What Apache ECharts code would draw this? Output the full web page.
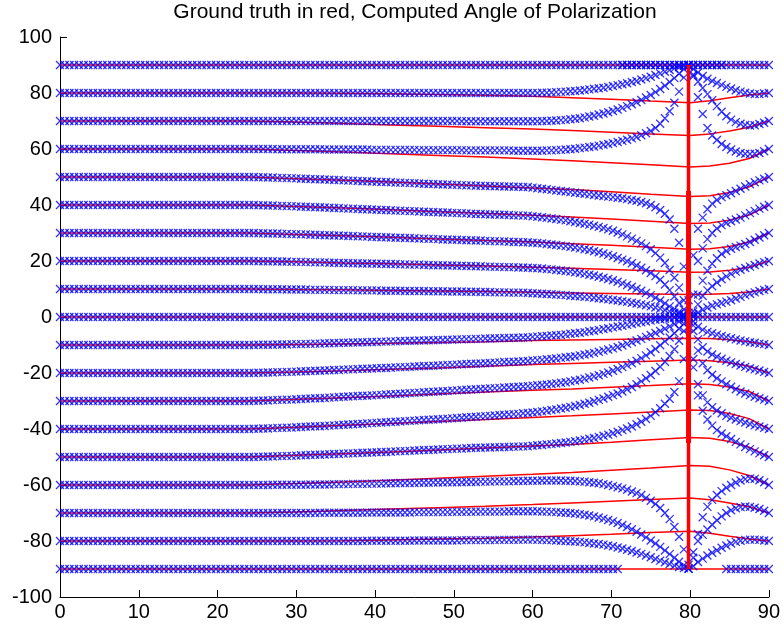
<!DOCTYPE html>
<html><head><meta charset="utf-8">
<script src="https://cdn.jsdelivr.net/npm/echarts@6/dist/echarts.min.js"></script>
<style>html,body{margin:0;padding:0;background:#fff}#c{width:783px;height:630px}</style>
</head><body><div id="c"></div>
<script>
const titleText = 'Ground truth in red, Computed Angle of Polarization';
const xTicks = [0,10,20,30,40,50,60,70,80,90];
const yTicks = [-100,-80,-60,-40,-20,0,20,40,60,80,100];

// x positions of the computed (blue) samples
const xs = [0,0.6,1.2,1.8,2.4,3,3.6,4.2,4.8,5.4,6,6.6,7.2,7.8,8.4,9,9.6,10.2,10.8,11.4,
12,12.6,13.2,13.8,14.4,15,15.6,16.2,16.8,17.4,18,18.6,19.2,19.8,20.4,21,21.6,22.2,22.8,23.4,
24,24.6,25.2,25.8,26.4,27,27.6,28.2,28.8,29.4,30,30.6,31.2,31.8,32.4,33,33.6,34.2,34.8,35.4,
36,36.6,37.2,37.8,38.4,39,39.6,40.2,40.8,41.4,42,42.6,43.2,43.8,44.4,45,45.6,46.2,46.8,47.4,
48,48.6,49.2,49.8,50.4,51,51.6,52.2,52.8,53.4,54,54.6,55.2,55.8,56.4,57,57.6,58.2,58.8,59.4,
60,60.6,61.2,61.8,62.4,63,63.6,64.2,64.8,65.4,66,66.6,67.2,67.8,68.4,69,69.6,70.2,70.8,71.4,
72,72.6,73.2,73.8,74.4,75,75.6,76.2,76.8,77.4,78,78.6,79.2,79.8,80.4,81,81.6,82.2,82.8,83.4,
84,84.6,85.2,85.8,86.4,87,87.6,88.2,88.8,89.4,90];

const blueP90 = [90,90,90,90,90,90,90,90,90,90,90,90,90,90,90,90,90,90,90,90,90,90,90,90,90,90,90,90,90,90,
90,90,90,90,90,90,90,90,90,90,90,90,90,90,90,90,90,90,90,90,90,90,90,90,90,90,90,90,90,90,
90,90,90,90,90,90,90,90,90,90,90,90,90,90,90,90,90,90,90,90,90,90,90,90,90,90,90,90,90,90,
90,90,90,90,90,90,90,90,90,90,90,90,90,90,90,90,90,90,90,90,90,90,90,90,90,90,90,90,90,90,
90,90,90,90,90,90,90,90,90,90,90,90,90,90,90,90,90,90,90,90,90,90,90,90,90,90,90,90,90,90,90];
const blueP80 = [80,80,80,80,80,80,80,80,80,80,80,80,80,80,80,80,80,80,80,80,
80,80,80,80,80,80,80,80,80,80,80,80,80,80,80,80,80,80,80,80,
80,80,80,80,80,80,80,80,80,80,80,80,80,80,80,80,80,80,80,80,
80,80,80,80,80,80,80,80,80,80,80,80,80,80,80,80,80,80,80,80,
80,80,80,80,80,80,80,80,80,80,80,80,80,80,80,80,80,80,80,80,
80.0,80.0,80.1,80.1,80.2,80.3,80.4,80.5,80.6,80.7,
80.9,81.1,81.3,81.5,81.7,81.9,82.2,82.5,82.8,83.1,
83.5,83.9,84.3,84.8,85.3,85.8,86.4,87.0,87.6,88.2,
88.8,89.3,89.7,90.0,88.6,87.3,86.1,85.1,84.3,83.6,
82.9,82.2,81.6,81.0,80.5,80.1,79.8,79.6,79.6,79.8,
80];
const blueP70 = [70,70,70,70,70,70,70,70,70,70,70,70,70,70,70,70,70,70,70,70,
70,70,70,70,70,70,70,70,70,70,70,70,70,70,70,70,70,70,70,70,
70,70,70,70,70,70,70,70,70,70,70,70,70,70,70,70,70,70,70,70,
70,70,70,70,70,70,70,70,70,70,70,70,70,70,70,70,70,70,70,70,
70,70,70,70,70,69.9,69.9,69.9,69.9,69.9,69.9,69.9,69.9,69.9,69.9,69.9,69.9,69.9,69.9,69.9,
69.9,69.9,70.0,70.0,70.1,70.2,70.3,70.4,70.6,70.8,
71.0,71.3,71.6,71.9,72.3,72.7,73.1,73.6,74.1,74.7,
75.3,76.0,76.7,77.5,78.4,79.3,80.3,81.4,82.6,83.9,
85.3,86.9,88.6,89.9,86.5,84.0,81.8,79.6,77.4,75.3,
73.3,71.7,70.5,69.6,69.0,68.6,68.4,68.5,68.9,69.4,
70];
const blueP60 = [60,60,60,60,60,60,60,60,60,60,60,60,60,60,60,60,60,60,60,60,
60,60,60,60,60,60,60,60,60,60,60,60,60,60,60,60,60,60,60,60,
60,60,60,60,60,60,59.9,59.9,59.9,59.9,
59.9,59.9,59.9,59.9,59.9,59.9,59.8,59.8,59.8,59.8,
59.8,59.8,59.8,59.8,59.8,59.8,59.7,59.7,59.7,59.7,
59.7,59.7,59.7,59.7,59.7,59.7,59.6,59.6,59.6,59.6,
59.6,59.6,59.6,59.6,59.6,59.6,59.5,59.5,59.5,59.5,
59.5,59.5,59.5,59.5,59.5,59.5,59.4,59.4,59.4,59.4,
59.4,59.4,59.4,59.5,59.5,59.6,59.7,59.8,59.9,60.1,
60.3,60.5,60.7,60.9,61.2,61.5,61.8,62.1,62.5,62.9,
63.3,63.8,64.3,64.9,65.6,66.4,67.5,69.0,71.0,73.5,
76.5,80.5,85.5,89.5,86.0,78.5,72.5,67.5,64.8,63.2,
61.8,60.7,59.8,59.1,58.6,58.3,58.2,58.3,58.6,59.2,
60];
const blueP50 = [50,50,50,50,50,50,50,50,50,50,50,50,50,50,50,50,50,50,50,50,
50,50,50,50,50,50,50,50,50,50,50,50,50,50,50,50,50,50,50,50,
50,50,49.9,49.9,49.8,49.8,49.7,49.7,49.6,49.6,
49.5,49.4,49.4,49.3,49.2,49.2,49.1,49.0,48.9,48.9,
48.8,48.7,48.7,48.6,48.5,48.5,48.4,48.3,48.2,48.2,
48.1,48.0,48.0,47.9,47.8,47.8,47.7,47.6,47.5,47.5,
47.4,47.3,47.3,47.2,47.2,47.1,47.0,47.0,46.9,46.9,
46.8,46.8,46.7,46.7,46.6,46.6,46.5,46.5,46.4,46.4,
46.2,46.0,45.8,45.6,45.4,45.2,45.0,44.8,44.6,44.4,
44.2,44.0,43.8,43.6,43.4,43.2,43.0,42.8,42.6,42.4,
42.1,41.8,41.5,41.1,40.6,40.0,39.2,38.2,36.9,34.8,
31.5,26.5,18.0,6.0,22.0,31.5,35.5,38.5,40.5,41.8,
42.8,43.5,44.2,45.0,45.8,46.6,47.4,48.1,48.8,49.4,
50];
const blueP40 = [40,40,40,40,40,40,40,40,40,40,40,40,40,40,40,40,40,40,40,40,
40,40,40,40,40,40,40,40,40,40,40,40,40,40,40,40,40,40,40,40,
40,40,39.9,39.9,39.8,39.8,39.7,39.7,39.6,39.6,
39.5,39.4,39.4,39.3,39.2,39.2,39.1,39.0,38.9,38.9,
38.8,38.7,38.7,38.6,38.5,38.5,38.4,38.3,38.2,38.2,
38.1,38.0,38.0,37.9,37.8,37.8,37.7,37.6,37.5,37.5,
37.4,37.3,37.3,37.2,37.1,37.1,37.0,36.9,36.8,36.8,
36.7,36.6,36.6,36.5,36.5,36.4,36.3,36.3,36.2,36.2,
36.0,35.8,35.6,35.4,35.2,35.0,34.7,34.5,34.2,33.9,
33.6,33.3,33.0,32.6,32.2,31.8,31.3,30.8,30.2,29.5,
28.8,28.0,27.2,26.3,25.3,24.2,22.8,21.2,19.3,16.8,
14.0,10.5,6.0,1.5,8.0,20.0,24.5,27.8,30.0,31.6,
32.8,33.6,34.2,34.8,35.5,36.3,37.1,37.9,38.7,39.4,
40];
const blueP30 = [30,30,30,30,30,30,30,30,30,30,30,30,30,30,30,30,30,30,30,30,
30,30,30,30,30,30,30,30,30,30,30,30,30,30,30,30,30,30,30,30,
30,30,29.9,29.9,29.8,29.8,29.8,29.7,29.7,29.6,
29.6,29.5,29.5,29.4,29.4,29.3,29.2,29.2,29.1,29.1,
29.0,28.9,28.9,28.8,28.8,28.7,28.6,28.6,28.5,28.5,
28.4,28.3,28.3,28.2,28.2,28.1,28.0,28.0,27.9,27.9,
27.8,27.7,27.7,27.6,27.6,27.5,27.4,27.4,27.3,27.3,
27.2,27.1,27.1,27.0,27.0,26.9,26.8,26.8,26.7,26.7,
26.5,26.4,26.3,26.1,25.9,25.7,25.5,25.3,25.1,24.8,
24.5,24.2,23.9,23.5,23.1,22.7,22.2,21.7,21.1,20.5,
19.9,19.2,18.4,17.6,16.7,15.7,14.6,13.3,11.6,9.6,
7.3,5.0,2.7,0.5,2.0,8.0,13.0,16.5,19.0,21.0,
22.5,23.6,24.4,25.0,25.5,26.1,26.8,27.6,28.4,29.2,
30];
const blueP20 = [20,20,20,20,20,20,20,20,20,20,20,20,20,20,20,20,20,20,20,20,
20,20,20,20,20,20,20,20,20,20,20,20,20,20,20,20,20,20,20,20,
20,20,19.9,19.9,19.9,19.9,19.8,19.8,19.8,19.7,
19.7,19.7,19.6,19.6,19.5,19.5,19.5,19.4,19.4,19.3,
19.3,19.3,19.2,19.2,19.1,19.1,19.1,19.0,19.0,18.9,
18.9,18.9,18.8,18.8,18.7,18.7,18.7,18.6,18.6,18.5,
18.5,18.5,18.4,18.4,18.3,18.3,18.2,18.2,18.1,18.1,
18.0,18.0,17.9,17.9,17.8,17.8,17.8,17.7,17.7,17.6,
17.5,17.4,17.3,17.1,17.0,16.8,16.6,16.4,16.2,16.0,
15.7,15.4,15.1,14.8,14.4,14.0,13.6,13.1,12.6,12.0,
11.4,10.8,10.1,9.4,8.6,7.8,6.9,5.9,4.9,3.8,
2.8,1.8,0.9,0.2,1.0,4.5,7.5,9.5,11.0,12.3,
13.5,14.5,15.4,16.2,16.9,17.5,18.0,18.6,19.1,19.6,
20];
const blueP10 = [10,10,10,10,10,10,10,10,10,10,10,10,10,10,10,10,10,10,10,10,
10,10,10,10,10,10,10,10,10,10,10,10,10,10,10,10,10,10,10,10,
10,10,10,9.9,9.9,9.9,9.9,9.9,9.8,9.8,
9.8,9.8,9.8,9.7,9.7,9.7,9.7,9.7,9.6,9.6,
9.6,9.6,9.6,9.5,9.5,9.5,9.5,9.5,9.4,9.4,
9.4,9.4,9.4,9.3,9.3,9.3,9.3,9.3,9.2,9.2,
9.2,9.2,9.1,9.1,9.1,9.1,9.0,9.0,9.0,8.9,
8.9,8.9,8.8,8.8,8.8,8.7,8.7,8.7,8.7,8.6,
8.5,8.4,8.3,8.2,8.1,8.0,7.9,7.8,7.6,7.5,
7.4,7.2,7.1,6.9,6.7,6.5,6.3,6.1,5.9,5.6,
5.4,5.1,4.8,4.5,4.2,3.8,3.4,3.0,2.5,2.0,
1.5,1.0,0.5,0.1,0.3,1.5,2.6,3.4,4.0,4.5,
5.0,5.5,6.0,6.6,7.2,7.8,8.3,8.8,9.3,9.7,
10];
const blueZero = [0,0,0,0,0,0,0,0,0,0,0,0,0,0,0,0,0,0,0,0,0,0,0,0,0,0,0,0,0,0,
0,0,0,0,0,0,0,0,0,0,0,0,0,0,0,0,0,0,0,0,0,0,0,0,0,0,0,0,0,0,
0,0,0,0,0,0,0,0,0,0,0,0,0,0,0,0,0,0,0,0,0,0,0,0,0,0,0,0,0,0,
0,0,0,0,0,0,0,0,0,0,0,0,0,0,0,0,0,0,0,0,0,0,0,0,0,0,0,0,0,0,
0,0,0,0,0,0,0,0,0,0,0,0,0,0,0,0,0,0,0,0,0,0,0,0,0,0,0,0,0,0,0];
const blueM10 = [-10,-10,-10,-10,-10,-10,-10,-10,-10,-10,-10,-10,-10,-10,-10,-10,-10,-10,-10,-10,
-10,-10,-10,-10,-10,-10,-10,-10,-10,-10,-10,-10,-10,-10,-10,-10,-10,-10,-10,-10,
-10,-10,-9.9,-9.9,-9.9,-9.9,-9.8,-9.8,-9.8,-9.7,
-9.7,-9.7,-9.6,-9.6,-9.5,-9.5,-9.4,-9.4,-9.3,-9.3,
-9.2,-9.2,-9.1,-9.1,-9.0,-9.0,-8.9,-8.9,-8.8,-8.8,
-8.7,-8.7,-8.6,-8.6,-8.5,-8.5,-8.4,-8.4,-8.3,-8.3,
-8.2,-8.2,-8.1,-8.1,-8.0,-8.0,-7.9,-7.9,-7.8,-7.8,
-7.7,-7.7,-7.6,-7.6,-7.5,-7.5,-7.4,-7.4,-7.3,-7.3,
-7.1,-7.0,-6.9,-6.8,-6.6,-6.5,-6.4,-6.2,-6.0,-5.8,
-5.6,-5.4,-5.1,-4.9,-4.6,-4.3,-4.0,-3.7,-3.4,-3.1,
-2.8,-2.5,-2.2,-1.9,-1.6,-1.3,-1.0,-0.8,-0.6,-0.4,
-0.3,-0.2,-0.1,0,-1.5,-3.5,-4.6,-5.3,-5.8,-6.3,
-6.8,-7.2,-7.6,-8.0,-8.4,-8.7,-9.0,-9.2,-9.5,-9.7,
-10];
const blueM20 = [-20,-20,-20,-20,-20,-20,-20,-20,-20,-20,-20,-20,-20,-20,-20,-20,-20,-20,-20,-20,
-20,-20,-20,-20,-20,-20,-20,-20,-20,-20,-20,-20,-20,-20,-20,-20,-20,-20,-20,-20,
-20,-20,-19.9,-19.9,-19.8,-19.8,-19.7,-19.7,-19.6,-19.6,
-19.5,-19.4,-19.4,-19.3,-19.2,-19.2,-19.1,-19.0,-18.9,-18.9,
-18.8,-18.7,-18.7,-18.6,-18.5,-18.5,-18.4,-18.3,-18.2,-18.2,
-18.1,-18.0,-17.9,-17.9,-17.8,-17.7,-17.6,-17.5,-17.5,-17.4,
-17.3,-17.2,-17.1,-17.1,-17.0,-16.9,-16.8,-16.7,-16.7,-16.6,
-16.5,-16.4,-16.3,-16.2,-16.1,-16.1,-16.0,-15.9,-15.8,-15.7,
-15.5,-15.4,-15.3,-15.1,-15.0,-14.8,-14.6,-14.4,-14.2,-14.0,
-13.7,-13.4,-13.1,-12.8,-12.4,-12.0,-11.6,-11.2,-10.7,-10.2,
-9.6,-9.0,-8.4,-7.8,-7.1,-6.4,-5.7,-5.0,-4.2,-3.4,
-2.5,-1.6,-0.8,-0.1,-3.0,-8.0,-10.8,-12.3,-13.4,-14.2,
-14.9,-15.6,-16.2,-16.8,-17.3,-17.8,-18.3,-18.7,-19.1,-19.6,
-20];
const blueM30 = [-30,-30,-30,-30,-30,-30,-30,-30,-30,-30,-30,-30,-30,-30,-30,-30,-30,-30,-30,-30,
-30,-30,-30,-30,-30,-30,-30,-30,-30,-30,-30,-30,-30,-30,-30,-30,-30,-30,-30,-30,
-30,-29.9,-29.9,-29.8,-29.8,-29.7,-29.6,-29.6,-29.5,-29.5,
-29.4,-29.3,-29.2,-29.1,-29.0,-29.0,-28.9,-28.8,-28.7,-28.6,
-28.5,-28.4,-28.3,-28.2,-28.1,-28.1,-28.0,-27.9,-27.8,-27.7,
-27.6,-27.5,-27.4,-27.3,-27.2,-27.1,-27.0,-26.9,-26.8,-26.7,
-26.6,-26.5,-26.4,-26.3,-26.2,-26.1,-26.0,-25.9,-25.8,-25.7,
-25.6,-25.5,-25.4,-25.3,-25.2,-25.1,-25.0,-24.9,-24.8,-24.7,
-24.5,-24.4,-24.3,-24.1,-23.9,-23.7,-23.5,-23.3,-23.0,-22.7,
-22.4,-22.0,-21.6,-21.2,-20.8,-20.3,-19.8,-19.2,-18.6,-17.9,
-17.2,-16.5,-15.6,-14.7,-13.7,-12.6,-11.4,-10.1,-8.7,-7.3,
-5.8,-4.2,-2.4,-0.5,-5.0,-12.0,-16.5,-19.0,-20.6,-21.9,
-23.0,-24.0,-24.9,-25.8,-26.6,-27.3,-27.9,-28.5,-29.0,-29.5,
-30];
const blueM40 = [-40,-40,-40,-40,-40,-40,-40,-40,-40,-40,-40,-40,-40,-40,-40,-40,-40,-40,-40,-40,
-40,-40,-40,-40,-40,-40,-40,-40,-40,-40,-40,-40,-40,-40,-40,-40,-40,-40,-40,-40,
-40,-39.9,-39.9,-39.8,-39.8,-39.7,-39.6,-39.6,-39.5,-39.5,
-39.4,-39.3,-39.2,-39.1,-39.0,-39.0,-38.9,-38.8,-38.7,-38.6,
-38.5,-38.4,-38.3,-38.2,-38.1,-38.0,-37.9,-37.8,-37.7,-37.6,
-37.5,-37.4,-37.3,-37.2,-37.1,-37.0,-36.9,-36.8,-36.7,-36.6,
-36.5,-36.4,-36.3,-36.2,-36.1,-36.0,-35.8,-35.7,-35.6,-35.5,
-35.4,-35.3,-35.2,-35.0,-34.9,-34.8,-34.7,-34.6,-34.4,-34.3,
-34.1,-33.9,-33.7,-33.5,-33.2,-33.0,-32.7,-32.4,-32.1,-31.8,
-31.4,-31.0,-30.6,-30.1,-29.6,-29.1,-28.5,-27.9,-27.3,-26.6,
-25.8,-25.0,-24.0,-23.0,-21.9,-20.7,-19.3,-17.8,-16.0,-13.9,
-11.5,-8.5,-5.0,-1.2,-15.0,-24.0,-28.0,-30.5,-32.2,-33.4,
-34.4,-35.3,-36.0,-36.6,-37.2,-37.7,-38.2,-38.7,-39.1,-39.6,
-40];
const blueM50 = [-50,-50,-50,-50,-50,-50,-50,-50,-50,-50,-50,-50,-50,-50,-50,-50,-50,-50,-50,-50,
-50,-50,-50,-50,-50,-50,-50,-50,-50,-50,-50,-50,-50,-50,-50,-50,-50,-50,-50,-50,
-50,-50,-49.9,-49.9,-49.8,-49.8,-49.7,-49.7,-49.6,-49.6,
-49.5,-49.4,-49.4,-49.3,-49.2,-49.2,-49.1,-49.0,-48.9,-48.9,
-48.8,-48.7,-48.7,-48.6,-48.5,-48.5,-48.4,-48.3,-48.2,-48.2,
-48.1,-48.0,-47.9,-47.9,-47.8,-47.7,-47.6,-47.5,-47.5,-47.4,
-47.3,-47.2,-47.2,-47.1,-47.0,-47.0,-46.9,-46.8,-46.7,-46.7,
-46.6,-46.6,-46.5,-46.5,-46.4,-46.4,-46.3,-46.3,-46.2,-46.2,
-46.0,-45.8,-45.7,-45.5,-45.4,-45.2,-45.0,-44.8,-44.6,-44.4,
-44.1,-43.8,-43.5,-43.2,-42.8,-42.4,-42.0,-41.5,-41.0,-40.4,
-39.8,-39.1,-38.3,-37.4,-36.4,-35.3,-34.0,-32.6,-31.0,-29.2,
-26.8,-23.0,-15.0,-4.0,-18.0,-28.0,-33.5,-36.6,-38.8,-40.4,
-41.6,-42.6,-43.6,-44.6,-45.5,-46.4,-47.2,-48.0,-48.7,-49.4,
-50];
const blueM60 = [-60,-60,-60,-60,-60,-60,-60,-60,-60,-60,-60,-60,-60,-60,-60,-60,-60,-60,-60,-60,
-60,-60,-60,-60,-60,-60,-60,-60,-60,-60,-60,-60,-60,-60,-60,-60,-60,-60,-60,-60,
-60,-60,-60,-60,-60,-59.9,-59.9,-59.9,-59.9,-59.9,
-59.9,-59.9,-59.9,-59.8,-59.8,-59.8,-59.8,-59.8,-59.7,-59.7,
-59.7,-59.7,-59.6,-59.6,-59.6,-59.6,-59.5,-59.5,-59.5,-59.4,
-59.4,-59.4,-59.3,-59.3,-59.3,-59.3,-59.2,-59.2,-59.2,-59.1,
-59.1,-59.1,-59.0,-59.0,-59.0,-59.0,-58.9,-58.9,-58.9,-58.8,
-58.8,-58.8,-58.7,-58.7,-58.7,-58.7,-58.6,-58.6,-58.6,-58.5,
-58.5,-58.5,-58.4,-58.4,-58.4,-58.4,-58.4,-58.5,-58.5,-58.6,
-58.7,-58.8,-59.0,-59.2,-59.4,-59.7,-60.0,-60.4,-60.8,-61.2,
-61.7,-62.3,-62.9,-63.6,-64.6,-65.6,-66.8,-68.2,-70.0,-72.2,
-75.0,-78.5,-83.0,-88.5,-86.0,-77.5,-71.5,-67.8,-65.3,-63.6,
-62.2,-61.0,-60.0,-59.1,-58.4,-57.9,-57.7,-57.8,-58.3,-59.0,
-60];
const blueM70 = [-70,-70,-70,-70,-70,-70,-70,-70,-70,-70,-70,-70,-70,-70,-70,-70,-70,-70,-70,-70,
-70,-70,-70,-70,-70,-70,-70,-70,-70,-70,-70,-70,-70,-70,-70,-70,-70,-70,-70,-70,
-70,-70,-70,-70,-70,-70,-70,-70,-70,-70,
-70,-70,-70,-70,-70,-69.9,-69.9,-69.9,-69.9,-69.9,
-69.9,-69.9,-69.9,-69.9,-69.9,-69.8,-69.8,-69.8,-69.8,-69.8,
-69.8,-69.8,-69.8,-69.8,-69.8,-69.7,-69.7,-69.7,-69.7,-69.7,
-69.7,-69.7,-69.7,-69.6,-69.6,-69.6,-69.6,-69.6,-69.5,-69.5,
-69.5,-69.5,-69.5,-69.5,-69.5,-69.4,-69.4,-69.4,-69.4,-69.4,
-69.4,-69.4,-69.5,-69.5,-69.6,-69.7,-69.8,-69.9,-70.0,-70.2,
-70.4,-70.6,-70.9,-71.2,-71.6,-72.0,-72.5,-73.0,-73.6,-74.3,
-75.0,-75.8,-76.7,-77.7,-78.7,-79.8,-80.9,-82.1,-83.4,-84.7,
-86.0,-87.4,-88.7,-89.8,-84.0,-80.0,-77.8,-75.9,-74.2,-72.6,
-71.2,-70.0,-69.0,-68.3,-67.9,-67.7,-67.8,-68.1,-68.6,-69.2,
-70];
const blueM80 = [-80,-80,-80,-80,-80,-80,-80,-80,-80,-80,-80,-80,-80,-80,-80,-80,-80,-80,-80,-80,
-80,-80,-80,-80,-80,-80,-80,-80,-80,-80,-80,-80,-80,-80,-80,-80,-80,-80,-80,-80,
-80,-80,-80,-80,-80,-80,-80,-80,-80,-80,
-80,-80,-80,-80,-80,-80,-80,-80,-80,-80,
-80,-80,-80,-80,-80,-79.9,-79.9,-79.9,-79.9,-79.9,
-79.9,-79.9,-79.9,-79.9,-79.9,-79.8,-79.8,-79.8,-79.8,-79.8,
-79.8,-79.8,-79.8,-79.8,-79.8,-79.7,-79.7,-79.7,-79.7,-79.7,
-79.7,-79.7,-79.7,-79.6,-79.6,-79.6,-79.6,-79.6,-79.5,-79.5,
-79.5,-79.6,-79.6,-79.7,-79.7,-79.8,-79.9,-80.0,-80.1,-80.2,
-80.3,-80.5,-80.7,-80.9,-81.1,-81.3,-81.6,-81.9,-82.3,-82.7,
-83.1,-83.6,-84.1,-84.6,-85.2,-85.8,-86.4,-87.0,-87.6,-88.2,
-88.8,-89.3,-89.7,-90.0,-89.0,-87.5,-86.3,-85.2,-84.2,-83.3,
-82.4,-81.6,-80.9,-80.3,-79.9,-79.6,-79.5,-79.5,-79.6,-79.8,
-80];
const blueM90 = [-90,-90,-90,-90,-90,-90,-90,-90,-90,-90,-90,-90,-90,-90,-90,-90,-90,-90,-90,-90,
-90,-90,-90,-90,-90,-90,-90,-90,-90,-90,-90,-90,-90,-90,-90,-90,-90,-90,-90,-90,
-90,-90,-90,-90,-90,-90,-90,-90,-90,-90,-90,-90,-90,-90,-90,-90,-90,-90,-90,-90,
-90,-90,-90,-90,-90,-90,-90,-90,-90,-90,-90,-90,-90,-90,-90,-90,-90,-90,-90,-90,
-90,-90,-90,-90,-90,-90,-90,-90,-90,-90,-90,-90,-90,-90,-90,-90,-90,-90,-90,-90,
-90,-90,-90,-90,-90,-90,-90,-90,-90,-90,
-90,-90,-90,-90,-90,-90,-90,-90,-90,90,
90,90,90,90,90,90,90,90,90,90,
90,90,90,90,90,90,90,90,90,90,
90,-90,-90,-90,-90,-90,-90,-90,-90,-90,
-90];

// ground truth (red) sampled at these x positions
const redX = [0,24,30,36,42,48,54,60,65,70,75,80,82.5,85,87.5,90];
const redP90 = [90,90,90,90,90,90,90,90,90,90,90,90,90,90,90,90];
const redP80 = [80,80,80,79.9,79.7,79.5,79.2,78.8,78.3,77.8,77.1,76.5,77.2,78.3,79.3,80];
const redP70 = [70,70,69.6,69.1,68.6,68.1,67.6,67.1,66.6,66.0,65.4,64.8,65.4,66.4,67.8,70];
const redP60 = [60,60,59.5,58.9,58.3,57.7,57.1,56.4,55.8,55.1,54.4,53.6,53.9,54.9,56.6,60];
const redP50 = [50,50,49.4,48.8,48.2,47.5,46.8,46.1,45.5,44.7,43.8,43.0,43.3,44.5,46.5,50];
const redP40 = [40,40,39.5,38.9,38.3,37.6,37.0,36.3,35.7,35.0,34.2,33.4,33.6,34.6,36.4,40];
const redP30 = [30,30,29.5,29.0,28.5,27.9,27.3,26.8,26.2,25.6,24.9,24.2,24.4,25.2,26.8,30];
const redP20 = [20,20,19.7,19.3,19.0,18.6,18.2,17.8,17.4,17.0,16.5,16.0,16.1,16.7,17.8,20];
const redP10 = [10,10,9.8,9.7,9.5,9.3,9.1,8.8,8.6,8.4,8.2,8.0,8.1,8.4,8.9,10];
const redZero = [0,0,0,0,0,0,0,0,0,0,0,0,0,0,0,0];
const redM10 = [-10,-10,-9.8,-9.6,-9.4,-9.1,-8.8,-8.4,-8.2,-8.0,-7.8,-7.6,-7.7,-8.1,-8.8,-10];
const redM20 = [-20,-20,-19.6,-19.2,-18.7,-18.2,-17.6,-17.0,-16.6,-16.2,-15.8,-15.4,-15.6,-16.3,-17.6,-20];
const redM30 = [-30,-30,-29.4,-28.8,-28.2,-27.5,-26.8,-26.2,-25.7,-25.1,-24.5,-23.8,-24.1,-25.0,-26.6,-30];
const redM40 = [-40,-40,-39.4,-38.7,-38.0,-37.3,-36.6,-35.9,-35.3,-34.6,-33.9,-33.2,-33.4,-34.5,-36.3,-40];
const redM50 = [-50,-50,-49.4,-48.8,-48.2,-47.5,-46.8,-46.1,-45.5,-44.7,-43.8,-43.0,-43.3,-44.5,-46.5,-50];
const redM60 = [-60,-60,-59.5,-58.9,-58.3,-57.6,-56.9,-56.2,-55.5,-54.7,-53.9,-53.0,-53.3,-54.6,-56.6,-60];
const redM70 = [-70,-70,-69.6,-69.1,-68.6,-68.1,-67.6,-67.0,-66.4,-65.8,-65.2,-64.6,-65.3,-66.4,-67.8,-70];
const redM80 = [-80,-80,-80,-79.9,-79.6,-79.3,-79.0,-78.6,-78.1,-77.6,-77.0,-76.5,-77.2,-78.3,-79.3,-80];
const redM90 = [-90,-90,-90,-90,-90,-90,-90,-90,-90,-90,-90,-90,-90,-90,-90,-90];

// vertical ground-truth line
const vertX = [79.8, 79.8];
const vertY = [-90, 90];
const vertCoreY = [-45, 45];

const blueRows = [blueM90,blueM80,blueM70,blueM60,blueM50,blueM40,blueM30,blueM20,blueM10,blueZero,
  blueP10,blueP20,blueP30,blueP40,blueP50,blueP60,blueP70,blueP80,blueP90];
const redRows = [redM90,redM80,redM70,redM60,redM50,redM40,redM30,redM20,redM10,redZero,
  redP10,redP20,redP30,redP40,redP50,redP60,redP70,redP80,redP90];

const FONT = '"Liberation Sans", Arial, Helvetica, sans-serif';
const series = [];
redRows.forEach(r => {
  series.push({type:'line', data: redX.map((x,i)=>[x, r[i]]), symbol:'none', showSymbol:false,
    lineStyle:{color:'#ff0000', width:1.5}, z:2, silent:true});
});
blueRows.forEach(b => {
  const n = Math.min(xs.length, b.length);
  const d = [];
  for (let i = 0; i < n; i++) d.push([xs[i], b[i]]);
  series.push({type:'scatter', data:d, symbol:'path://M0,0L10,10M10,0L0,10', symbolSize:8,
    itemStyle:{color:'rgba(0,0,0,0)', borderColor:'#0000ff', borderWidth:1.3}, z:3, silent:true});
});
series.push({type:'line', data: vertX.map((x,i)=>[x, vertY[i]]), symbol:'none',
  lineStyle:{color:'#ff0000', width:3.5}, z:4, silent:true});
series.push({type:'line', data: vertX.map((x,i)=>[x, vertCoreY[i]]), symbol:'none',
  lineStyle:{color:'#ff0000', width:5}, z:4, silent:true});

const chart = echarts.init(document.getElementById('c'), null, {renderer:'canvas'});
chart.setOption({
  animation:false,
  backgroundColor:'#ffffff',
  title:{text:titleText, left:415, top:2, textAlign:'center', padding:0,
    textStyle:{fontSize:21, fontWeight:'normal', color:'#000', fontFamily:FONT}},
  grid:{left:60, right:14, top:37, bottom:33, containLabel:false},
  xAxis:{type:'value', min:xTicks[0], max:xTicks[xTicks.length-1], interval:xTicks[1]-xTicks[0],
    axisLine:{show:true, onZero:false, lineStyle:{color:'#000', width:1}},
    axisTick:{show:true, inside:true, length:7, lineStyle:{color:'#000'}},
    axisLabel:{fontSize:20, color:'#000', margin:5, fontFamily:FONT},
    splitLine:{show:false}},
  yAxis:{type:'value', min:yTicks[0], max:yTicks[yTicks.length-1], interval:yTicks[1]-yTicks[0],
    axisLine:{show:true, onZero:false, lineStyle:{color:'#000', width:1}},
    axisTick:{show:true, inside:true, length:7, lineStyle:{color:'#000'}},
    axisLabel:{fontSize:20, color:'#000', margin:8, fontFamily:FONT},
    splitLine:{show:false}},
  series:series
});
</script>
</body></html>
